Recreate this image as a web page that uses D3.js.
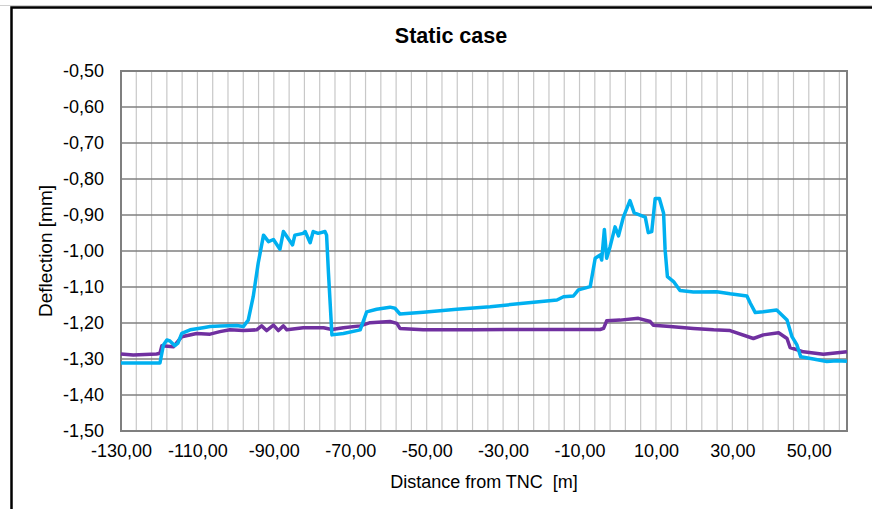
<!DOCTYPE html>
<html>
<head>
<meta charset="utf-8">
<script src="https://cdnjs.cloudflare.com/ajax/libs/d3/7.8.5/d3.min.js"></script>
<style>
body { margin: 0; background: #fff; }
text { font-family: Arial, "Liberation Sans", sans-serif; fill: #000; }
</style>
</head>
<body>
<script>
// values
var cyanDistance = [-130, -120.3, -119.8, -118.9, -118.0, -117.2, -115.9, -115.1, -114.1, -111.9, -108.5, -106.7, -104.1, -99.7, -98.0, -96.7, -95.4, -94.1, -92.7, -91.4, -90.1, -88.4, -87.5, -86.6, -85.1, -84.5, -82.3, -81.8, -80.5, -79.7, -78.4, -76.6, -76.2, -75.7, -74.8, -71.8, -67.4, -65.7, -63.1, -59.6, -58.3, -57.0, -50.9, -42.1, -33.4, -24.7, -15.9, -14.2, -11.6, -10.3, -7.2, -5.9, -4.6, -4.2, -3.5, -2.9, -2.0, -0.7, 0.2, 1.5, 3.2, 4.3, 7.2, 8.0, 8.9, 9.8, 10.9, 12.0, 12.4, 13.0, 14.6, 16.3, 19.8, 25.9, 29.4, 33.8, 34.7, 36.0, 38.1, 41.6, 44.3, 45.6, 46.9, 47.9, 51.2, 54.7, 57.4, 60.0];
var cyanDeflection = [-1.311, -1.311, -1.311, -1.261, -1.247, -1.250, -1.263, -1.256, -1.229, -1.219, -1.213, -1.210, -1.208, -1.207, -1.210, -1.192, -1.127, -1.034, -0.956, -0.974, -0.968, -0.995, -0.946, -0.960, -0.983, -0.956, -0.951, -0.946, -0.977, -0.946, -0.951, -0.946, -0.956, -1.062, -1.233, -1.229, -1.219, -1.169, -1.162, -1.156, -1.159, -1.175, -1.170, -1.162, -1.155, -1.145, -1.136, -1.127, -1.125, -1.108, -1.099, -1.020, -1.011, -1.025, -0.940, -1.020, -0.988, -0.933, -0.958, -0.905, -0.860, -0.894, -0.906, -0.949, -0.946, -0.854, -0.854, -0.895, -0.997, -1.071, -1.085, -1.110, -1.114, -1.113, -1.119, -1.125, -1.145, -1.171, -1.169, -1.164, -1.192, -1.238, -1.261, -1.294, -1.300, -1.307, -1.305, -1.306];

var purpleDistance = [-130, -126.8, -120.7, -119.8, -119.3, -116.3, -114.1, -110.2, -106.7, -104.1, -101.5, -98.0, -94.5, -93.2, -91.9, -90.1, -88.8, -87.5, -86.6, -82.3, -77.0, -74.8, -71.8, -67.4, -64.8, -59.6, -57.8, -57.0, -50.9, -37.8, -29.0, -11.6, -4.6, -3.7, -2.9, 0.6, 5.4, 8.5, 9.3, 13.7, 19.8, 25.1, 29.4, 35.5, 38.1, 42.1, 44.3, 45.1, 48.6, 53.8, 60.0];
var purpleDeflection = [-1.286, -1.289, -1.286, -1.284, -1.263, -1.266, -1.238, -1.229, -1.231, -1.224, -1.219, -1.221, -1.219, -1.208, -1.221, -1.206, -1.221, -1.208, -1.219, -1.213, -1.213, -1.218, -1.213, -1.208, -1.199, -1.196, -1.201, -1.215, -1.219, -1.219, -1.218, -1.218, -1.218, -1.215, -1.194, -1.192, -1.187, -1.196, -1.206, -1.210, -1.215, -1.219, -1.221, -1.243, -1.233, -1.227, -1.243, -1.268, -1.280, -1.287, -1.280];

var xTickValues = [-130, -110, -90, -70, -50, -30, -10, 10, 30, 50];
var yTickValues = [-0.5, -0.6, -0.7, -0.8, -0.9, -1.0, -1.1, -1.2, -1.3, -1.4, -1.5];

// set up variables
var canvasWidth = 872,
    canvasHeight = 509,
    plot = {left: 121, right: 847, top: 71, bottom: 431},
    cyanColor = "#00b0f0",
    purpleColor = "#7030a0";

var figure = d3.select("body")
    .append("svg")
        .attr("width", canvasWidth)
        .attr("height", canvasHeight);

var x = d3.scaleLinear()
    .range([plot.left, plot.right])
    .domain([-130, 60]);
var y = d3.scaleLinear()
    .range([plot.top, plot.bottom])
    .domain([-0.5, -1.5]);

var comma = function(v, digits) { return v.toFixed(digits).replace(".", ","); };

// outer frame (cut off on the right and bottom like the screenshot)
figure.append("line")
    .attr("x1", 0).attr("x2", canvasWidth)
    .attr("y1", 5.5).attr("y2", 5.5)
    .attr("stroke", "#d0d0d0");
figure.append("rect")
    .attr("x", 11.5).attr("y", 7.5)
    .attr("width", 1000).attr("height", 1000)
    .attr("fill", "none")
    .attr("stroke", "#000")
    .attr("stroke-width", 2.5);

// vertical gridlines every 4 m
figure.append("g")
    .attr("class", "x-grid")
    .selectAll("line")
    .data(d3.range(-126, 60, 4))
    .enter()
    .append("line")
    .attr("x1", function(d) { return x(d); })
    .attr("x2", function(d) { return x(d); })
    .attr("y1", plot.top)
    .attr("y2", plot.bottom)
    .attr("stroke", "#c8c8c8")
    .attr("stroke-width", 1.2);

// horizontal gridlines
figure.append("g")
    .attr("class", "y-grid")
    .selectAll("line")
    .data(yTickValues.slice(1, -1))
    .enter()
    .append("line")
    .attr("x1", plot.left)
    .attr("x2", plot.right)
    .attr("y1", function(d) { return y(d); })
    .attr("y2", function(d) { return y(d); })
    .attr("stroke", "#7f7f7f")
    .attr("stroke-width", 1.5);

// plot border
figure.append("rect")
    .attr("x", plot.left)
    .attr("y", plot.top)
    .attr("width", plot.right - plot.left)
    .attr("height", plot.bottom - plot.top)
    .attr("fill", "none")
    .attr("stroke", "#7f7f7f")
    .attr("stroke-width", 2);

// the two series
var line = d3.line()
    .x(function(d) { return x(d[0]); })
    .y(function(d) { return y(d[1]); });

figure.append("path")
    .datum(d3.zip(purpleDistance, purpleDeflection))
    .attr("d", line)
    .attr("fill", "none")
    .attr("stroke", purpleColor)
    .attr("stroke-width", 3.5)
    .attr("stroke-linejoin", "round");

figure.append("path")
    .datum(d3.zip(cyanDistance, cyanDeflection))
    .attr("d", line)
    .attr("fill", "none")
    .attr("stroke", cyanColor)
    .attr("stroke-width", 3.5)
    .attr("stroke-linejoin", "round");

// axes (labels only, lines are drawn by the border)
var xAxis = figure.append("g")
    .attr("class", "axis")
    .attr("transform", "translate(0, " + plot.bottom + ")")
    .call(d3.axisBottom(x)
        .tickValues(xTickValues)
        .tickSize(0)
        .tickPadding(13)
        .tickFormat(function(d) { return comma(d, 2); }));

var yAxis = figure.append("g")
    .attr("class", "axis")
    .attr("transform", "translate(" + plot.left + ", 0)")
    .call(d3.axisLeft(y)
        .tickValues(yTickValues)
        .tickSize(0)
        .tickPadding(17)
        .tickFormat(function(d) { return comma(d, 2); }));

figure.selectAll(".axis path.domain").remove();
figure.selectAll(".axis text")
    .attr("font-size", 18)
    .attr("font-family", "Arial, 'Liberation Sans', sans-serif")
    .attr("fill", "#000");

// title and axis labels
figure.append("text")
    .attr("text-anchor", "middle")
    .attr("x", 451)
    .attr("y", 43)
    .attr("font-size", 21.5)
    .attr("font-weight", "bold")
    .text("Static case");

figure.append("text")
    .attr("text-anchor", "middle")
    .attr("x", 484)
    .attr("y", 488)
    .attr("font-size", 18)
    .style("white-space", "pre")
    .text("Distance from TNC  [m]");

figure.append("text")
    .attr("text-anchor", "middle")
    .attr("transform", "translate(52, 251) rotate(-90)")
    .attr("font-size", 19)
    .text("Deflection [mm]");
</script>
</body>
</html>
